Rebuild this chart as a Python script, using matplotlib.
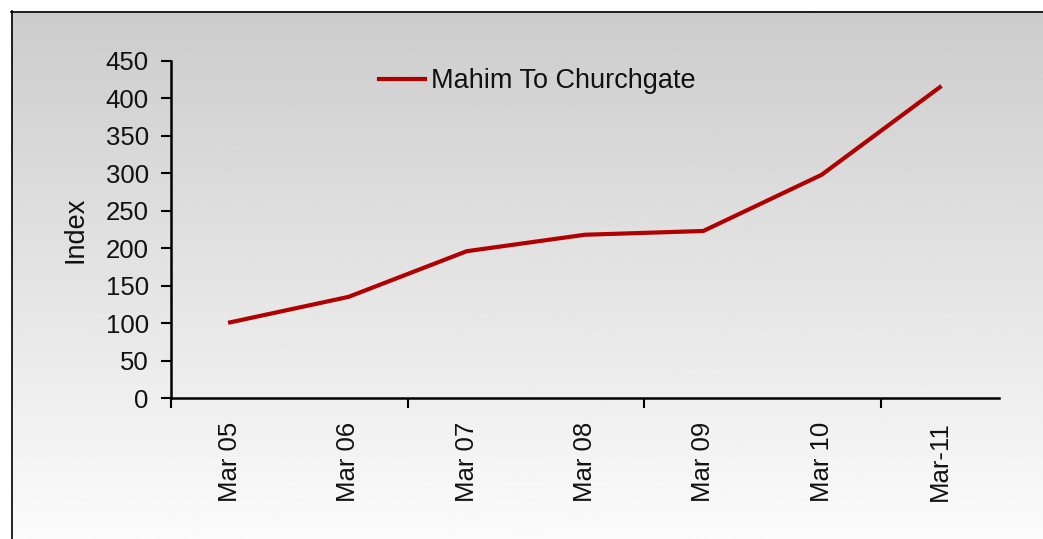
import numpy as np
import matplotlib
matplotlib.use("Agg")
import matplotlib.pyplot as plt
from matplotlib.lines import Line2D

###############################################################################
# Data
periods = ["Mar 05", "Mar 06", "Mar 07", "Mar 08", "Mar 09", "Mar 10", "Mar-11"]
index_values = [101, 135, 196, 218, 223, 298, 415]
y_ticks = [0, 50, 100, 150, 200, 250, 300, 350, 400, 450]

plt.rcParams['font.family'] = ['Liberation Sans', 'DejaVu Sans']

W, H = 1043, 539
fig = plt.figure(figsize=(W / 100, H / 100), dpi=100)
fig.patch.set_facecolor("white")

###############################################################################
# Gradient background panel (grey at top, near white at bottom)
bg = fig.add_axes([11 / W, 0, 1 - 11 / W, 1 - 11 / H], zorder=0)
grad = np.linspace(0.80, 0.985, 256).reshape(-1, 1)
bg.imshow(grad, cmap="gray", vmin=0, vmax=1, aspect="auto",
          extent=[0, 1, 0, 1], origin="upper")
bg.set_axis_off()

# Black frame on left and top
fig.add_artist(Line2D([11.5 / W, 11.5 / W], [0, 1 - 11 / H],
                      color="black", lw=1.2, transform=fig.transFigure))
fig.add_artist(Line2D([11 / W, 1], [1 - 11.5 / H, 1 - 11.5 / H],
                      color="black", lw=1.2, transform=fig.transFigure))

###############################################################################
# Main axes
ax = fig.add_axes([171 / W, 1 - 398 / H, (999 - 171) / W, (398 - 61) / H],
                  zorder=1)
ax.patch.set_alpha(0)

x = np.arange(len(periods))
ax.plot(x, index_values, color="#b00000", lw=3.0,
        solid_joinstyle="miter", label="Mahim To Churchgate")

ax.set_xlim(-0.5, len(periods) - 0.5)
ax.set_ylim(0, 450)
ax.set_yticks(y_ticks)
ax.tick_params(axis="y", labelsize=18.5, length=7, width=1.5, direction="out",
               pad=9, colors="black", labelcolor="#111111")

# Category labels centred, tick marks every second boundary
ax.set_xticks(x)
ax.set_xticklabels(periods, rotation=90, fontsize=18.5, color="#111111")
ax.tick_params(axis="x", which="major", length=0, pad=17)
ax.set_xticks(np.arange(-0.5, len(periods), 2), minor=True)
ax.tick_params(axis="x", which="minor", length=7, width=1.5, direction="out")

for side in ["top", "right"]:
    ax.spines[side].set_visible(False)
for side in ["left", "bottom"]:
    ax.spines[side].set_linewidth(1.8)

ax.set_ylabel("Index", fontsize=19.5, labelpad=12, color="#111111")

leg = ax.legend(loc="upper left", bbox_to_anchor=(0.228, 1.035), frameon=False,
                fontsize=19.5, handlelength=1.7, handletextpad=0.22,
                borderaxespad=0.3)
for t in leg.get_texts():
    t.set_color("#111111")

fig.savefig("out.png", dpi=100)
